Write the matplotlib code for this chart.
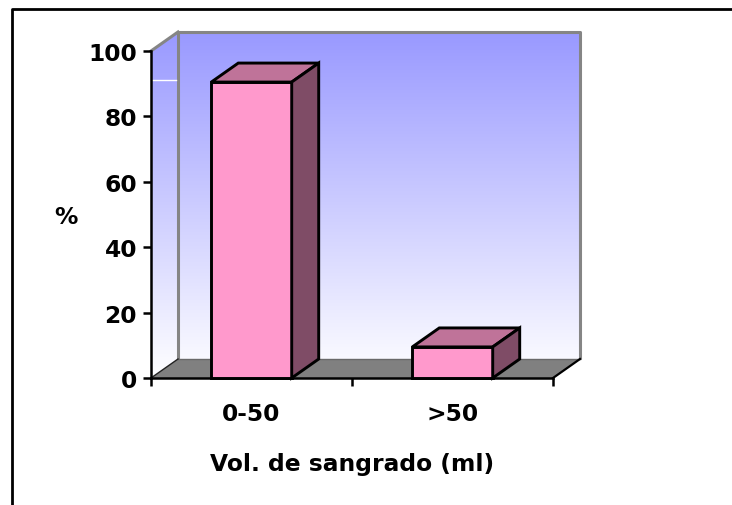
import numpy as np
import matplotlib
matplotlib.use("Agg")
import matplotlib.pyplot as plt
from matplotlib.patches import Polygon, Rectangle
from matplotlib.lines import Line2D
from matplotlib.colors import LinearSegmentedColormap

categorias = ["0-50", ">50"]
porcentajes = [90.5, 9.5]
yticks = [0, 20, 40, 60, 80, 100]

plt.rcParams['font.family'] = 'DejaVu Sans'
plt.rcParams['font.weight'] = 'bold'

fig = plt.figure(figsize=(7.32, 5.06), dpi=100)
W, H = 732, 506
ax = fig.add_axes([151/W, (H-379)/H, 402/W, 327/H])
ax.set_xlim(-0.5, 1.5)
ax.set_ylim(0, 100)
ax.patch.set_visible(False)

# profundidad 3D (en unidades de datos)
dx = 27/201.0
dy = 19/3.27
ancho = 0.4

x0, x1 = -0.5, 1.5

# paredes con degradado
cmap = LinearSegmentedColormap.from_list("pared", ["#ffffff", "#9999ff"])
grad = np.linspace(0, 1, 256).reshape(-1, 1)
im = ax.imshow(grad, extent=(x0, x1+dx, 0, 100+dy), origin='lower',
               aspect='auto', cmap=cmap, zorder=0.5, interpolation='bilinear')
pared = Polygon([(x0, 0), (x0, 100), (x0+dx, 100+dy), (x1+dx, 100+dy),
                 (x1+dx, dy), (x1, 0)], closed=True, transform=ax.transData,
                facecolor='none', edgecolor='none')
im.set_clip_box(fig.bbox)
im.set_clip_path(pared)

# bordes de las paredes
gris = '#858585'
ax.plot([x0+dx, x0+dx, x1+dx, x1+dx], [dy, 100+dy, 100+dy, dy],
        color=gris, lw=2.2, zorder=0.8, clip_on=False, solid_capstyle='butt')
ax.plot([x0, x0+dx], [100, 100+dy], color=gris, lw=2.2, zorder=0.8, clip_on=False)
ax.plot([x0, x0+dx*0.92], [91, 91], color='white', lw=1, zorder=0.8, clip_on=False)

# piso
piso = Polygon([(x0, 0), (x1, 0), (x1+dx, dy), (x0+dx, dy)], closed=True,
               facecolor='#808080', edgecolor='none', zorder=1, clip_on=False)
ax.add_patch(piso)
ax.plot([x0+dx, x1+dx], [dy, dy], color='#6a6a6a', lw=1, zorder=1.1, clip_on=False)
ax.plot([x0, x0+dx], [0, dy], color='#222222', lw=1, zorder=1.1, clip_on=False)
ax.plot([x1, x1+dx], [0, dy], color='black', lw=1.6, zorder=1.1, clip_on=False)

# barras 3D
frente = '#ff99cc'
arriba = '#bf7399'
lado = '#7f4c66'
for i, v in enumerate(porcentajes):
    a = i - ancho/2
    b = i + ancho/2
    ax.add_patch(Rectangle((a, 0), ancho, v, facecolor=frente, edgecolor='black',
                           lw=2.1, zorder=3, clip_on=False))
    ax.add_patch(Polygon([(a, v), (b, v), (b+dx, v+dy), (a+dx, v+dy)], closed=True,
                         facecolor=arriba, edgecolor='black', lw=2.1, zorder=3,
                         clip_on=False, joinstyle='miter'))
    ax.add_patch(Polygon([(b, 0), (b+dx, dy), (b+dx, v+dy), (b, v)], closed=True,
                         facecolor=lado, edgecolor='black', lw=2.1, zorder=3,
                         clip_on=False, joinstyle='miter'))

# ejes
for s in ['top', 'right']:
    ax.spines[s].set_visible(False)
for s in ['left', 'bottom']:
    ax.spines[s].set_linewidth(1.8)
    ax.spines[s].set_zorder(2.5)

ax.set_yticks(yticks)
ax.set_yticklabels([str(t) for t in yticks], fontsize=16.8, fontweight='bold')
ax.tick_params(axis='y', length=6, width=1.8, pad=4)

ax.set_xticks([-0.5, 0.5, 1.5])
ax.set_xticklabels([])
ax.tick_params(axis='x', which='major', length=6, width=1.8)
ax.set_xticks([0, 1], minor=True)
ax.set_xticklabels(categorias, minor=True, fontsize=16.8, fontweight='bold')
ax.tick_params(axis='x', which='minor', length=0, pad=17)

ax.set_ylabel('%', rotation=0, fontsize=16.8, fontweight='bold', va='center', ha='center')
ax.yaxis.set_label_coords((66-151)/402, (379-217)/327)
ax.set_xlabel('Vol. de sangrado (ml)', fontsize=16.8, fontweight='bold', va='center')
ax.xaxis.set_label_coords(0.5, (379-465)/327)

# marco
fig.add_artist(Line2D([12/W, 12/W, 1], [0, 1-10/H, 1-10/H], transform=fig.transFigure,
                      color='black', lw=2))

fig.savefig("out.png", dpi=100)
